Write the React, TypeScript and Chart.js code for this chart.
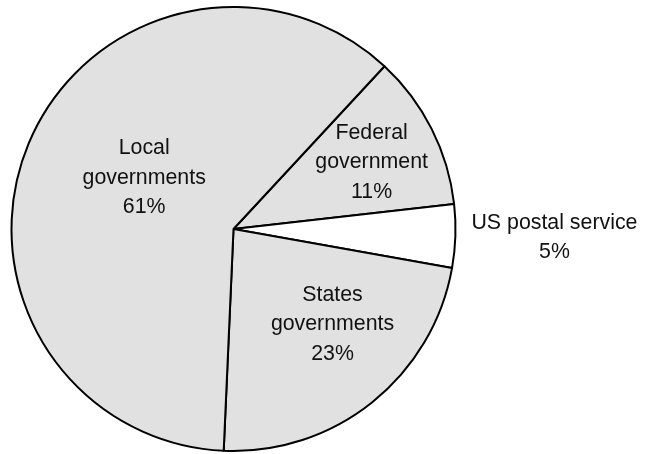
import React, { useEffect, useRef } from "react";
import { Chart, registerables } from "chart.js";

Chart.register(...registerables);

const categories = ["Federal\ngovernment", "US postal service", "States\ngovernments", "Local\ngovernments"];
const values = [11.3, 4.6, 22.9, 61.2];
const sliceColors = ["#e1e1e1", "#ffffff", "#e1e1e1", "#e1e1e1"];
// label placement: angular offset (deg) from the slice middle, and distance as fraction of radius
const labelAngleOffsets = [0.5, -0.6, -7.9, 7.8];
const labelRadiusFactors = [0.694, 1.446, 0.614, 0.467];

const FONT = "21.33px 'Liberation Sans', Arial, sans-serif";
const LINE_H = 29.5;

const labelPlugin = {
  id: "sliceLabels",
  afterDatasetsDraw(chart: any) {
    const ctx = chart.ctx;
    const meta = chart.getDatasetMeta(0);
    const data = chart.data.datasets[0].data as number[];
    const total = data.reduce((a, b) => a + b, 0);
    ctx.save();
    ctx.font = FONT;
    ctx.fillStyle = "#111";
    ctx.textAlign = "center";
    ctx.textBaseline = "alphabetic";
    meta.data.forEach((arc: any, i: number) => {
      const mid = (arc.startAngle + arc.endAngle) / 2 + (labelAngleOffsets[i] * Math.PI) / 180;
      const r = arc.outerRadius * labelRadiusFactors[i];
      const cx = arc.x + Math.cos(mid) * r;
      const cy = arc.y + Math.sin(mid) * r;
      const pct = Math.round((data[i] / total) * 100) + "%";
      const lines = String(chart.data.labels[i]).split("\n").concat([pct]);
      const n = lines.length;
      lines.forEach((line: string, k: number) => {
        const by = cy + (k - (n - 1) / 2) * LINE_H + 7.5;
        ctx.fillText(line, cx, by);
      });
    });
    ctx.restore();
  },
};

export default function App() {
  const ref = useRef<HTMLCanvasElement>(null);
  useEffect(() => {
    if (!ref.current) return;
    const chart = new Chart(ref.current, {
      type: "pie",
      data: {
        labels: categories,
        datasets: [
          {
            data: values,
            backgroundColor: sliceColors,
            borderColor: "#000",
            borderWidth: 2,
          },
        ],
      },
      options: {
        responsive: false,
        animation: false,
        devicePixelRatio: 1,
        rotation: 42.85,
        radius: 222,
        layout: { padding: { left: 0, right: 180, top: 4, bottom: 0 } },
        plugins: {
          legend: { display: false },
          tooltip: { enabled: false },
        },
      },
      plugins: [labelPlugin],
    });
    return () => chart.destroy();
  }, []);
  return (
    <div style={{ position: "fixed", left: 0, top: 0, width: 647, height: 454, background: "#fff" }}>
      <canvas ref={ref} width={647} height={454} />
    </div>
  );
}
